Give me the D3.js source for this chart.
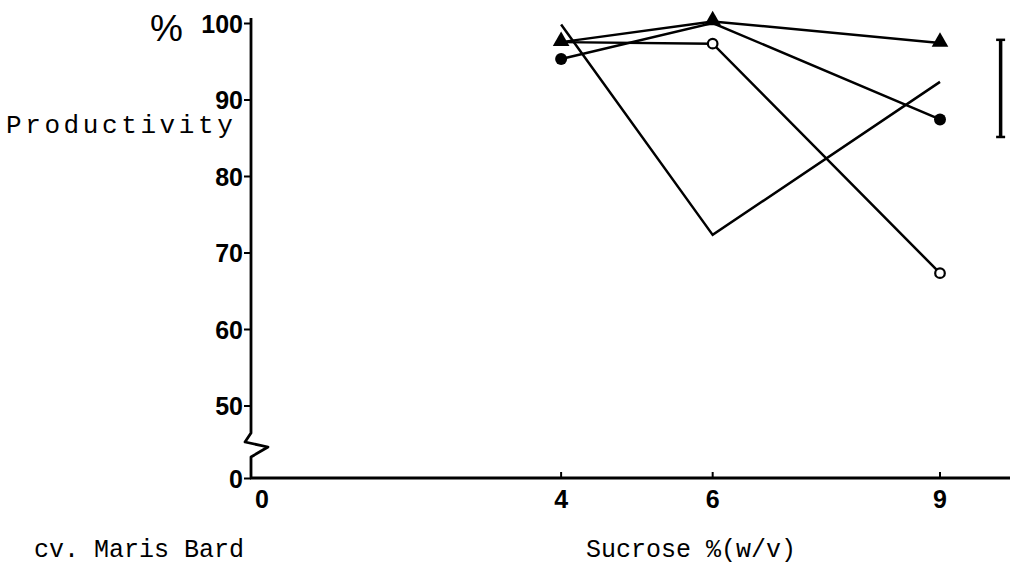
<!DOCTYPE html>
<html>
<head>
<meta charset="utf-8">
<script src="https://cdn.jsdelivr.net/npm/d3@7"></script>
<style>
  body { margin: 0; background: #fff; }
  svg { display: block; }
  .tick-label { font-family: "Liberation Sans", Arial, sans-serif; font-weight: bold; font-size: 25px; fill: #000; }
  .typed { font-family: "Liberation Mono", "Courier New", monospace; font-size: 25px; fill: #000; }
</style>
</head>
<body>
<svg id="chart" width="1026" height="567"></svg>
<script>
// sucrose levels on the x axis
const sucrose = [4, 6, 9];
const xTicks = [0, 4, 6, 9];
const yTicks = [0, 50, 60, 70, 80, 90, 100];

// productivity (%) for each treatment
const triangleSeries = [97.5, 100.2, 97.4];
const filledCircleSeries = [95.3, 100, 87.4];
const openCircleSeries = [97.5, 97.3, 67.3];
const plainSeries = [99.8, 72.3, 92.3];

// least significant difference bar
const lsdAt = 9.8;
const lsdRange = [85.1, 97.8];

const svg = d3.select('#chart');

const x = d3.scaleLinear().domain([0, 9]).range([258, 940]);
// broken axis: 0 sits below the break, 50..100 is linear
const y = d3.scaleLinear().domain([0, 50, 100]).range([478, 405.5, 23]);
const axisX = 251;

// y axis with break
const yAxis = svg.append('g').attr('transform', `translate(${axisX},0)`);
yAxis.call(d3.axisLeft(y).tickValues(yTicks).tickSize(7).tickFormat(d3.format('d')));
yAxis.select('.domain').remove();
yAxis.selectAll('.tick line').attr('stroke', '#000').attr('stroke-width', 2);
yAxis.selectAll('.tick text')
    .attr('class', 'tick-label')
    .attr('x', -8)
    .attr('dy', '0.36em');
yAxis.append('path')
    .attr('d', `M0,${y(100) - 5} L0,433 L-6,442 L17,447 L0,457 L0,${y(0)}`)
    .attr('fill', 'none')
    .attr('stroke', '#000')
    .attr('stroke-width', 2.8)
    .attr('stroke-linejoin', 'round');

// % sign beside the top label
svg.append('text')
    .attr('x', 150)
    .attr('y', 41)
    .style('font-family', '"Liberation Sans", Arial, sans-serif')
    .style('font-size', '37px')
    .text('%');

// x axis
const xAxis = svg.append('g').attr('transform', `translate(0,${y(0)})`);
xAxis.append('line')
    .attr('x1', axisX - 1).attr('x2', 1010)
    .attr('stroke', '#000').attr('stroke-width', 2.8);
xAxis.selectAll('.xtick')
    .data(xTicks.filter(d => d > 0))
    .join('line')
    .attr('x1', d => x(d)).attr('x2', d => x(d))
    .attr('y1', 0).attr('y2', -6)
    .attr('stroke', '#000').attr('stroke-width', 2);
xAxis.selectAll('.xlabel')
    .data(xTicks)
    .join('text')
    .attr('class', 'tick-label')
    .attr('x', d => x(d) + (d === 0 ? 4 : 0))
    .attr('y', 30)
    .attr('text-anchor', 'middle')
    .text(d => d);

// series lines
const line = d3.line().x((d, i) => x(sucrose[i])).y(d => y(d));
const series = [triangleSeries, filledCircleSeries, openCircleSeries, plainSeries];
svg.append('g')
    .selectAll('path')
    .data(series)
    .join('path')
    .attr('d', line)
    .attr('fill', 'none')
    .attr('stroke', '#000')
    .attr('stroke-width', 2.5);

// markers
const tri = d3.symbol().type(d3.symbolTriangle).size(120);
svg.append('g')
    .selectAll('path')
    .data(triangleSeries)
    .join('path')
    .attr('d', tri)
    .attr('transform', (d, i) => `translate(${x(sucrose[i])},${y(d) - 1})`)
    .attr('fill', '#000');
svg.append('g')
    .selectAll('circle')
    .data(filledCircleSeries.map((d, i) => ({v: d, s: sucrose[i]})).filter(d => d.s !== 6))
    .join('circle')
    .attr('cx', d => x(d.s))
    .attr('cy', d => y(d.v))
    .attr('r', 6)
    .attr('fill', '#000');
svg.append('g')
    .selectAll('circle')
    .data(openCircleSeries.map((d, i) => ({v: d, s: sucrose[i]})).filter(d => d.s !== 4))
    .join('circle')
    .attr('cx', d => x(d.s))
    .attr('cy', d => y(d.v))
    .attr('r', 4.8)
    .attr('fill', '#fff')
    .attr('stroke', '#000')
    .attr('stroke-width', 2.2);

// LSD bar
const lsd = svg.append('g').attr('stroke', '#000');
lsd.append('line')
    .attr('x1', x(lsdAt)).attr('x2', x(lsdAt))
    .attr('y1', y(lsdRange[1])).attr('y2', y(lsdRange[0]))
    .attr('stroke-width', 3.5);
lsd.selectAll('.cap')
    .data(lsdRange)
    .join('line')
    .attr('x1', x(lsdAt) - 4.5).attr('x2', x(lsdAt) + 4.5)
    .attr('y1', d => y(d)).attr('y2', d => y(d))
    .attr('stroke-width', 2.5);

// typed labels
svg.append('text')
    .attr('class', 'typed')
    .attr('x', 6)
    .attr('y', 133)
    .style('font-size', '26px')
    .style('letter-spacing', '3.6px')
    .text('Productivity');
svg.append('text')
    .attr('class', 'typed')
    .attr('x', 34)
    .attr('y', 557)
    .text('cv. Maris Bard');
svg.append('text')
    .attr('class', 'typed')
    .attr('x', 586)
    .attr('y', 557)
    .text('Sucrose %(w/v)');
</script>
</body>
</html>
